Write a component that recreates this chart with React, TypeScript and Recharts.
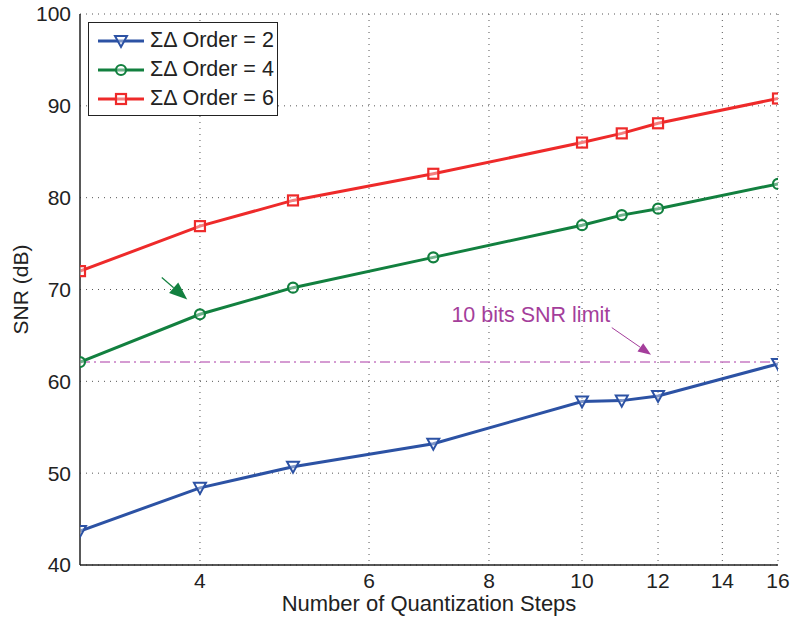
import {
  CartesianGrid,
  Line,
  LineChart,
  ReferenceLine,
  XAxis,
  YAxis,
} from "recharts";

// Number of quantization steps (log x axis)
const steps = [3, 4, 5, 7, 10, 11, 12, 16];
const order2 = [43.7, 48.4, 50.7, 53.2, 57.8, 57.9, 58.4, 61.9];
const order4 = [62.1, 67.3, 70.2, 73.5, 77.0, 78.1, 78.8, 81.5];
const order6 = [72.0, 76.9, 79.7, 82.6, 86.0, 87.0, 88.1, 90.8];
const xTicks = [4, 6, 8, 10, 12, 14, 16];
const yTicks = [40, 50, 60, 70, 80, 90, 100];
const snrLimit = 62.1;

const BLUE = "#2C52A4";
const GREEN = "#12803F";
const RED = "#EE2A2A";
const MAGENTA = "#A43E9B";
const FONT = "'Liberation Sans', Arial, sans-serif";

const data = steps.map((s, i) => ({
  steps: s,
  o2: order2[i],
  o4: order4[i],
  o6: order6[i],
}));

function Tri({ cx, cy, color }: { cx: number; cy: number; color: string }) {
  return (
    <path
      d={`M${cx - 6},${cy - 5} L${cx + 6},${cy - 5} L${cx},${cy + 6} Z`}
      fill="#fff"
      fillOpacity={0.4}
      stroke={color}
      strokeWidth={2}
    />
  );
}
function Circ({ cx, cy, color }: { cx: number; cy: number; color: string }) {
  return <circle cx={cx} cy={cy} r={5} fill="#fff" fillOpacity={0.4} stroke={color} strokeWidth={2.2} />;
}
function Sq({ cx, cy, color }: { cx: number; cy: number; color: string }) {
  return (
    <rect x={cx - 5} y={cy - 5} width={10} height={10} fill="#fff" fillOpacity={0.4} stroke={color} strokeWidth={2.2} />
  );
}

function arrowShape(color: string, stemWidth: number, headLen: number, headHalf: number) {
  return (props: any) => {
    const { x1, y1, x2, y2 } = props;
    if ([x1, y1, x2, y2].some((v) => v === undefined || isNaN(v))) return null;
    const dx = x2 - x1;
    const dy = y2 - y1;
    const len = Math.hypot(dx, dy);
    const ux = dx / len;
    const uy = dy / len;
    const bx = x2 - ux * headLen;
    const by = y2 - uy * headLen;
    return (
      <g>
        <line x1={x1} y1={y1} x2={bx} y2={by} stroke={color} strokeWidth={stemWidth} />
        <path
          d={`M${x2},${y2} L${bx - uy * headHalf},${by + ux * headHalf} L${bx + uy * headHalf},${by - ux * headHalf} Z`}
          fill={color}
        />
      </g>
    );
  };
}

const legendItems = [
  { label: "ΣΔ Order = 2", color: BLUE, mark: "tri" },
  { label: "ΣΔ Order = 4", color: GREEN, mark: "circ" },
  { label: "ΣΔ Order = 6", color: RED, mark: "sq" },
];

function LegendBox() {
  return (
    <div
      style={{
        position: "absolute",
        left: 88,
        top: 22,
        width: 190,
        height: 94,
        background: "#fff",
        border: "1px solid #222",
        boxSizing: "border-box",
        fontFamily: FONT,
        fontSize: 21.5,
        color: "#222",
        padding: "3px 0 0 7px",
      }}
    >
      {legendItems.map((it) => (
        <div key={it.label} style={{ display: "flex", alignItems: "center", height: 29, whiteSpace: "nowrap" }}>
          <svg width={50} height={20} style={{ marginRight: 4 }}>
            <line x1={2} y1={10} x2={48} y2={10} stroke={it.color} strokeWidth={3} />
            {it.mark === "tri" && <Tri cx={25} cy={10} color={it.color} />}
            {it.mark === "circ" && <Circ cx={25} cy={10} color={it.color} />}
            {it.mark === "sq" && <Sq cx={25} cy={10} color={it.color} />}
          </svg>
          <span>{it.label}</span>
        </div>
      ))}
    </div>
  );
}

export default function App() {
  const tick = { fill: "#222", fontSize: 21, fontFamily: FONT };
  return (
    <div style={{ position: "absolute", left: 0, top: 0, width: 790, height: 618, background: "#fff" }}>
      <LineChart width={790} height={618} data={data} margin={{ top: 14, right: 12, bottom: 0, left: 0 }}>
        <CartesianGrid stroke="#555" strokeDasharray="1 5" horizontalValues={yTicks} verticalValues={xTicks} />
        <XAxis
          dataKey="steps"
          type="number"
          scale="log"
          domain={[3, 16]}
          ticks={xTicks}
          allowDataOverflow
          height={53}
          tick={tick}
          tickLine={false}
          axisLine={{ stroke: "#222", strokeWidth: 1.5 }}
          tickMargin={2}
          label={{
            value: "Number of Quantization Steps",
            position: "insideBottom",
            offset: 7,
            style: { fill: "#222", fontSize: 22, fontFamily: FONT },
          }}
        />
        <XAxis
          xAxisId="top"
          orientation="top"
          dataKey="steps"
          type="number"
          scale="log"
          domain={[3, 16]}
          ticks={xTicks}
          height={0}
          tick={false}
          tickLine={false}
          axisLine={{ stroke: "#222", strokeWidth: 1.5 }}
        />
        <YAxis
          type="number"
          domain={[40, 100]}
          ticks={yTicks}
          width={80}
          tick={tick}
          tickLine={false}
          axisLine={{ stroke: "#222", strokeWidth: 1.5 }}
          tickMargin={3}
          label={{
            value: "SNR (dB)",
            angle: -90,
            position: "insideLeft",
            offset: 21,
            style: { fill: "#222", fontSize: 21, fontFamily: FONT, textAnchor: "middle" },
          }}
        />
        <YAxis
          yAxisId="right"
          orientation="right"
          type="number"
          domain={[40, 100]}
          ticks={yTicks}
          width={0}
          tick={false}
          tickLine={false}
          axisLine={{ stroke: "#222", strokeWidth: 1.5 }}
        />
        <ReferenceLine
          y={snrLimit}
          stroke="#C77BC4"
          strokeWidth={1.5}
          strokeDasharray="10 4 2 4"
        />
        <Line
          dataKey="o2"
          stroke={BLUE}
          strokeWidth={3}
          isAnimationActive={false}
          dot={(p: any) => <Tri key={`t${p.index}`} cx={p.cx} cy={p.cy} color={BLUE} />}
        />
        <Line
          dataKey="o4"
          stroke={GREEN}
          strokeWidth={3}
          isAnimationActive={false}
          dot={(p: any) => <Circ key={`c${p.index}`} cx={p.cx} cy={p.cy} color={GREEN} />}
        />
        <Line
          dataKey="o6"
          stroke={RED}
          strokeWidth={3}
          isAnimationActive={false}
          dot={(p: any) => <Sq key={`s${p.index}`} cx={p.cx} cy={p.cy} color={RED} />}
        />
        <ReferenceLine
          segment={[
            { x: 3.65, y: 71.3 },
            { x: 3.88, y: 68.9 },
          ]}
          shape={arrowShape(GREEN, 1.2, 18, 7)}
        />
        <ReferenceLine
          segment={[
            { x: 10.74, y: 65.85 },
            { x: 11.8, y: 62.9 },
          ]}
          shape={arrowShape(MAGENTA, 1, 13, 5)}
        />
        <ReferenceLine
          segment={[
            { x: 8.84, y: 67.26 },
            { x: 8.85, y: 67.26 },
          ]}
          stroke="none"
          label={{
            value: "10 bits SNR limit",
            position: "center",
            style: { fill: MAGENTA, fontSize: 21.5, fontFamily: FONT },
          }}
        />
      </LineChart>
      <LegendBox />
    </div>
  );
}
